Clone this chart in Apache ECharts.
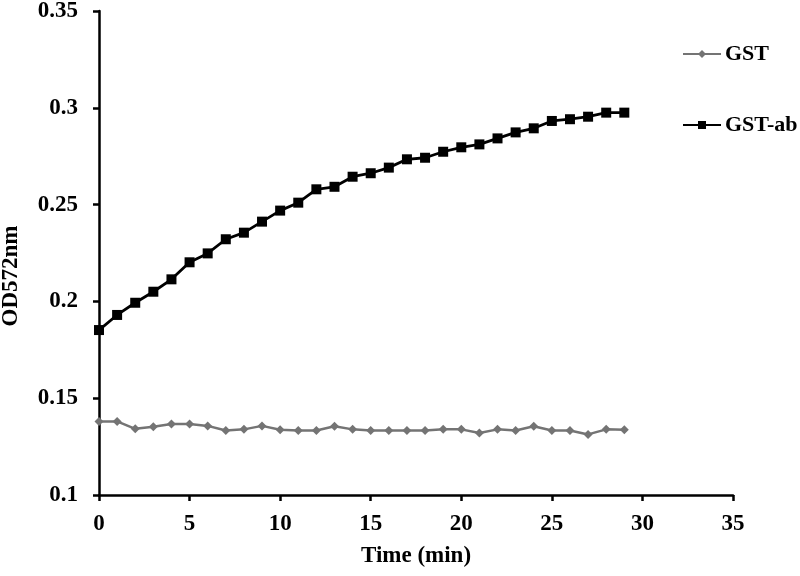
<!DOCTYPE html>
<html>
<head>
<meta charset="utf-8">
<script src="https://cdn.jsdelivr.net/npm/echarts@6/dist/echarts.min.js"></script>
<style>html,body{margin:0;padding:0;background:#fff;}#c{width:800px;height:576px;}</style>
</head>
<body>
<div id="c"></div>
<script>
const times = [0,1,2,3,4,5,6,7,8,9,10,11,12,13,14,15,16,17,18,19,20,21,22,23,24,25,26,27,28,29];
const gst = [0.138,0.138,0.1342,0.1352,0.1367,0.1367,0.1357,0.1333,0.1339,0.1357,0.1337,0.1333,0.1333,0.1355,0.1339,0.1333,0.1333,0.1333,0.1333,0.1339,0.1339,0.132,0.1339,0.1333,0.1355,0.1333,0.1333,0.1313,0.1339,0.1337];
const gstAb = [0.1852,0.193,0.1993,0.205,0.2114,0.2202,0.2248,0.2321,0.2355,0.2412,0.2469,0.251,0.2579,0.2592,0.2644,0.2662,0.2691,0.2734,0.2742,0.2773,0.2796,0.2811,0.2842,0.2873,0.2894,0.2932,0.2941,0.2954,0.2975,0.2975];
const seriesNames = ['GST','GST-ab'];
const xTitle = 'Time (min)';
const yTitle = 'OD572nm';

const font = {fontFamily:'Liberation Serif', fontWeight:'bold', color:'#000', fontSize:23};
const chart = echarts.init(document.getElementById('c'));
chart.setOption({
  animation:false,
  backgroundColor:'#fff',
  grid:{left:99, right:67, top:11, bottom:81, containLabel:false, outerBoundsMode:'none'},
  legend:[
    {data:[seriesNames[0]], left:677, top:38, itemWidth:38, itemHeight:10, itemGap:5, textStyle:Object.assign({}, font, {fontSize:22, padding:[0,0,0,-1]})},
    {data:[seriesNames[1]], left:677, top:109, itemWidth:38, itemHeight:10, itemGap:5, textStyle:Object.assign({}, font, {fontSize:22, padding:[0,0,0,-1]})}
  ],
  xAxis:{
    type:'value', min:0, max:35, interval:5,
    name:xTitle, nameLocation:'middle', nameGap:50,
    nameTextStyle:Object.assign({}, font, {fontSize:23}),
    axisLine:{lineStyle:{color:'#000', width:2.5}},
    axisTick:{length:6, lineStyle:{color:'#000', width:2.5}},
    axisLabel:Object.assign({}, font, {margin:18}),
    splitLine:{show:false}
  },
  yAxis:{
    type:'value', min:0.1, max:0.35, interval:0.05,
    name:yTitle, nameLocation:'middle', nameGap:76,
    nameTextStyle:Object.assign({}, font, {fontSize:23, padding:[0,46,0,0]}),
    axisLine:{show:true, lineStyle:{color:'#000', width:2.5}},
    axisTick:{show:true, length:6, lineStyle:{color:'#000', width:2.5}},
    axisLabel:Object.assign({}, font, {margin:21, formatter:v => String(+v.toFixed(2))}),
    splitLine:{show:false}
  },
  series:[
    {name:seriesNames[0], type:'line', data:times.map((t,i)=>[t,gst[i]]),
     symbol:'diamond', symbolSize:9, showAllSymbol:true,
     itemStyle:{color:'#747474'}, lineStyle:{color:'#747474', width:2.5}},
    {name:seriesNames[1], type:'line', data:times.map((t,i)=>[t,gstAb[i]]),
     symbol:'rect', symbolSize:10, showAllSymbol:true,
     itemStyle:{color:'#000'}, lineStyle:{color:'#000', width:2.8}}
  ]
});
</script>
</body>
</html>
